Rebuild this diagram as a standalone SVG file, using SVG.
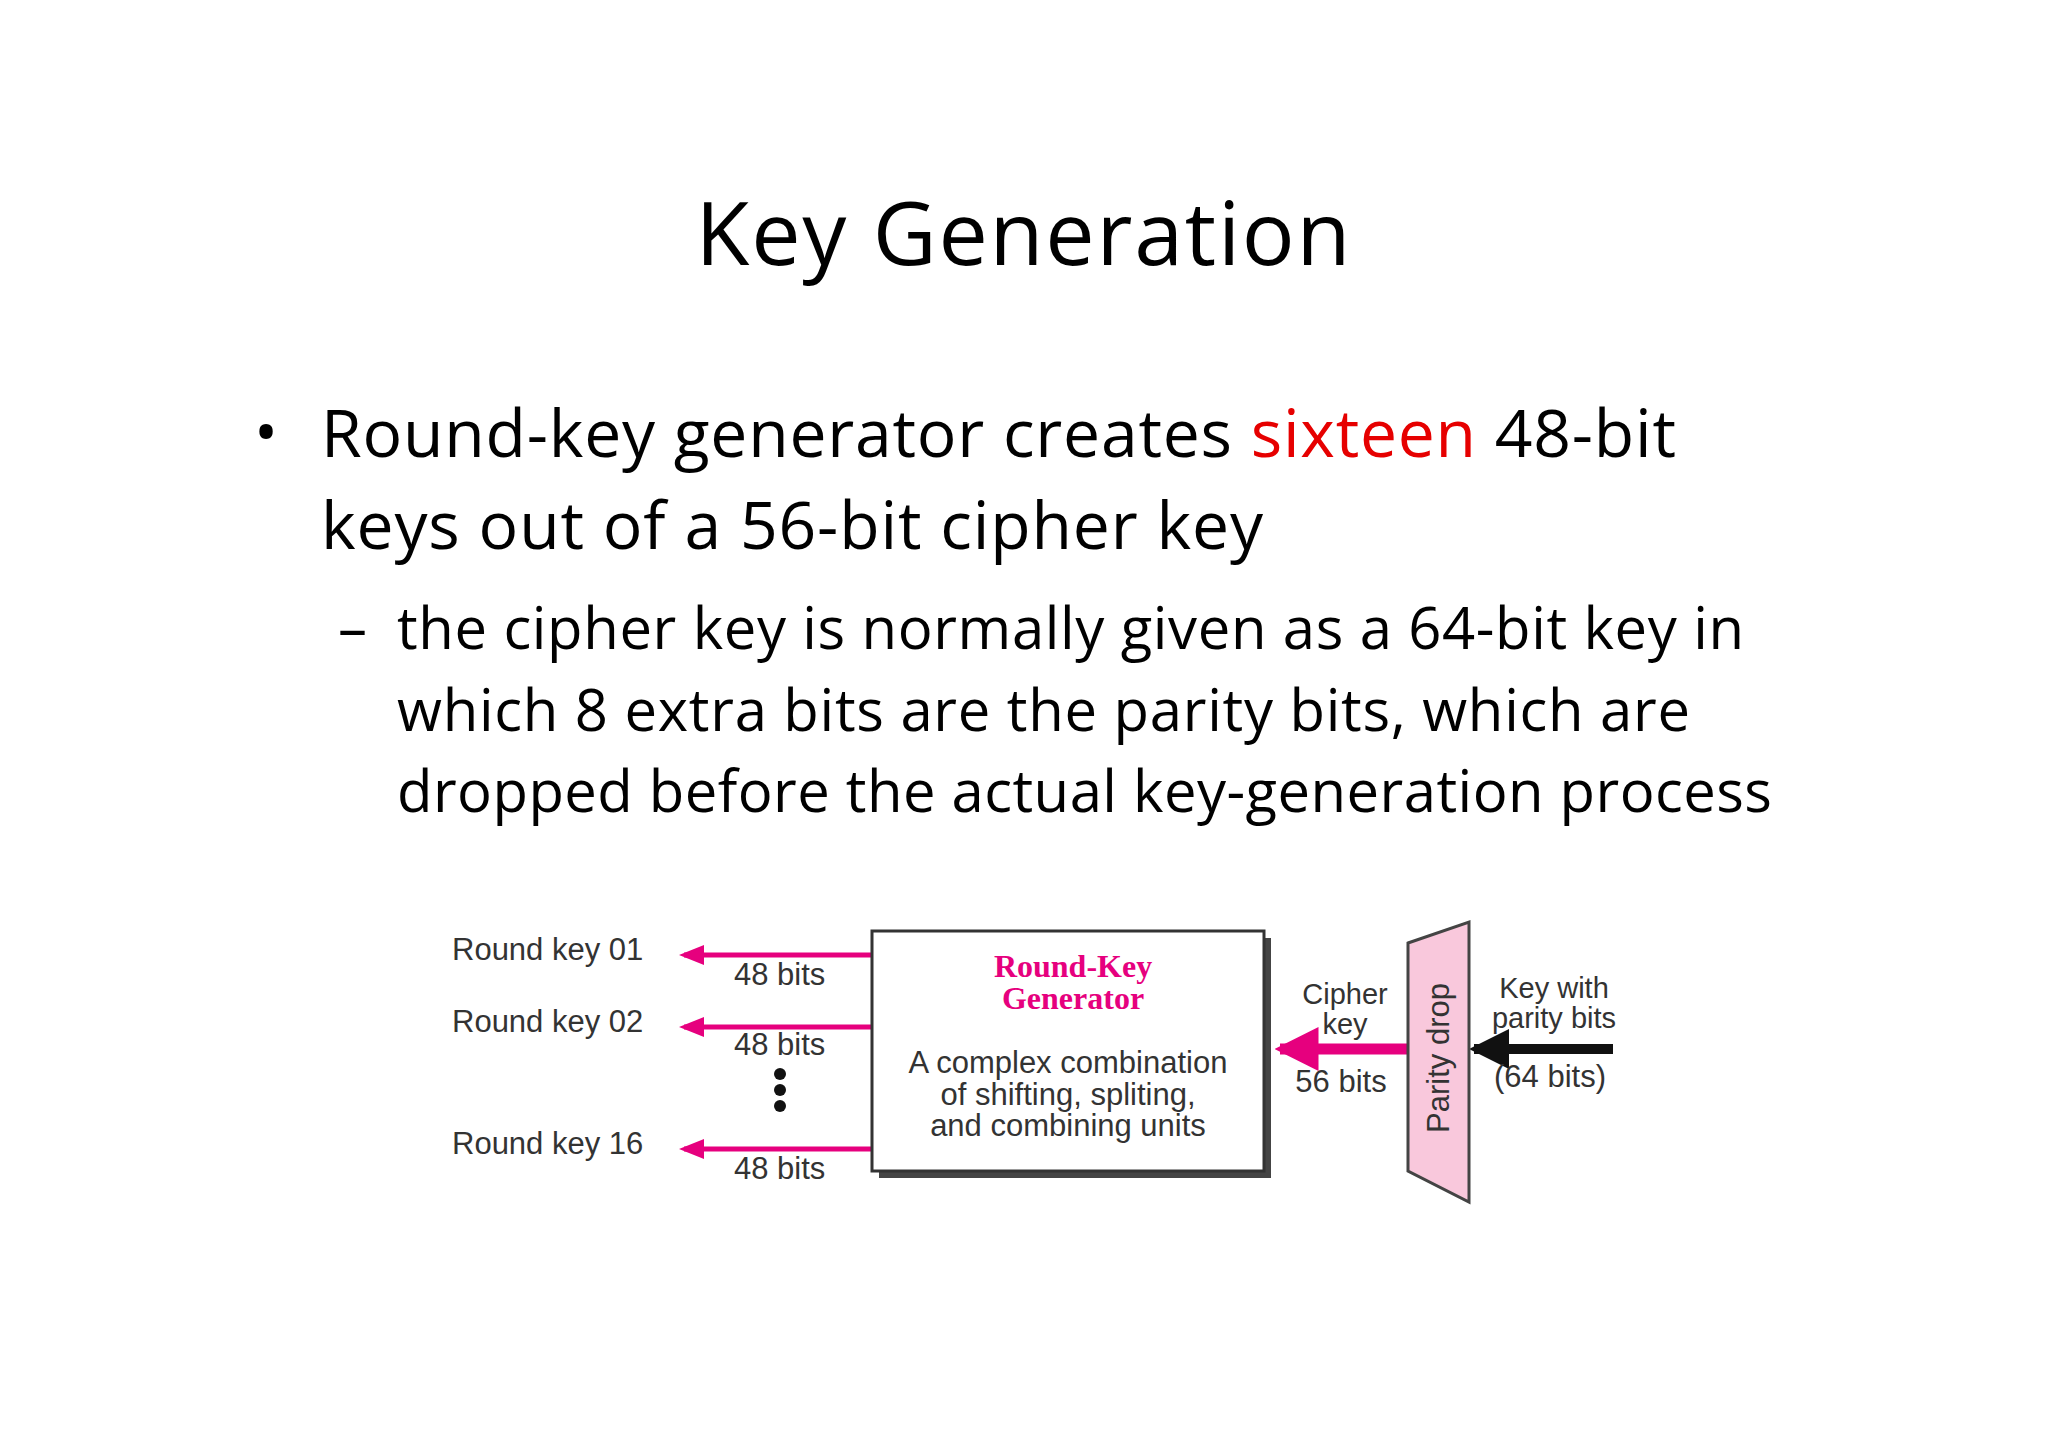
<svg xmlns="http://www.w3.org/2000/svg" width="2048" height="1449" viewBox="0 0 2048 1449">
<style>
.t{font-family:"Open Sans","Liberation Sans",sans-serif;fill:#000}
.d{font-family:"Liberation Sans",Arial,sans-serif;font-size:31px;fill:#333}
.s{font-size:29px}
.m{stroke:#e6007e;stroke-width:5;fill:none}
</style>
<defs>
<marker id="ah" markerWidth="5" markerHeight="4" refX="4" refY="2" orient="auto" markerUnits="strokeWidth"><path d="M0,0 L5,2 L0,4 Z" fill="#e6007e"/></marker>
<marker id="ah2" markerWidth="4" markerHeight="4" refX="3.5" refY="2" orient="auto" markerUnits="strokeWidth"><path d="M0,0 L4,2 L0,4 Z" fill="#e6007e"/></marker>
<marker id="ahb" markerWidth="4" markerHeight="4" refX="3.5" refY="2" orient="auto" markerUnits="strokeWidth"><path d="M0,0 L4,2 L0,4 Z" fill="#111"/></marker>
</defs>
<rect width="2048" height="1449" fill="#fff"/>
<g id="text">
<text class="t" x="1023" y="265" font-size="88" text-anchor="middle" textLength="655">Key Generation</text>
<text class="t" x="254" y="455" font-size="64">•</text>
<text class="t" x="321" y="457" font-size="66" textLength="1355">Round-key generator creates <tspan fill="#e60000">sixteen</tspan> 48-bit</text>
<text class="t" x="321" y="549" font-size="66" textLength="942">keys out of a 56-bit cipher key</text>
<text class="t" x="338" y="649" font-size="58">–</text>
<text class="t" x="397" y="649" font-size="58" textLength="1347">the cipher key is normally given as a 64-bit key in</text>
<text class="t" x="397" y="731" font-size="58" textLength="1293">which 8 extra bits are the parity bits, which are</text>
<text class="t" x="397" y="812" font-size="58" textLength="1375">dropped before the actual key-generation process</text>
</g>
<g id="connectors">
<line class="m" x1="872" y1="955" x2="684" y2="955" marker-end="url(#ah)"/>
<line class="m" x1="872" y1="1027" x2="684" y2="1027" marker-end="url(#ah)"/>
<line class="m" x1="872" y1="1149" x2="684" y2="1149" marker-end="url(#ah)"/>
<line x1="1408" y1="1049" x2="1280" y2="1049" stroke="#e6007e" stroke-width="11" marker-end="url(#ah2)"/>
<line x1="1613" y1="1049" x2="1474" y2="1049" stroke="#111" stroke-width="10" marker-end="url(#ahb)"/>
</g>
<g id="labels">
<text class="d" x="452" y="960">Round key 01</text>
<text class="d" x="452" y="1032">Round key 02</text>
<text class="d" x="452" y="1154">Round key 16</text>
<text class="d" x="734" y="985">48 bits</text>
<text class="d" x="734" y="1055">48 bits</text>
<text class="d" x="734" y="1179">48 bits</text>
<circle cx="780" cy="1074" r="6" fill="#111"/>
<circle cx="780" cy="1090" r="6" fill="#111"/>
<circle cx="780" cy="1106" r="6" fill="#111"/>
</g>
<g id="generator">
<rect x="879" y="938" width="392" height="240" fill="#444"/>
<rect x="872" y="931" width="392" height="240" fill="#fff" stroke="#333" stroke-width="3"/>
<text x="1073" y="977" font-family="Liberation Serif,serif" font-weight="bold" font-size="32" fill="#e6007e" text-anchor="middle">Round-Key</text>
<text x="1073" y="1009" font-family="Liberation Serif,serif" font-weight="bold" font-size="32" fill="#e6007e" text-anchor="middle">Generator</text>
<text class="d" x="1068" y="1073" text-anchor="middle">A complex combination</text>
<text class="d" x="1068" y="1105" text-anchor="middle">of shifting, spliting,</text>
<text class="d" x="1068" y="1136" text-anchor="middle">and combining units</text>
</g>
<g id="cipherkey">
<text class="d s" x="1345" y="1004" text-anchor="middle">Cipher</text>
<text class="d s" x="1345" y="1034" text-anchor="middle">key</text>
<text class="d" x="1341" y="1092" text-anchor="middle">56 bits</text>
</g>
<g id="parity">
<polygon points="1408,943 1469,922 1469,1202 1408,1171" fill="#f9c8dc" stroke="#444" stroke-width="3"/>
<text class="d" transform="translate(1449,1058) rotate(-90)" text-anchor="middle">Parity drop</text>
</g>
<g id="input">
<text class="d s" x="1554" y="998" text-anchor="middle">Key with</text>
<text class="d s" x="1554" y="1028" text-anchor="middle">parity bits</text>
<text class="d" x="1550" y="1087" text-anchor="middle">(64 bits)</text>
</g>
</svg>
